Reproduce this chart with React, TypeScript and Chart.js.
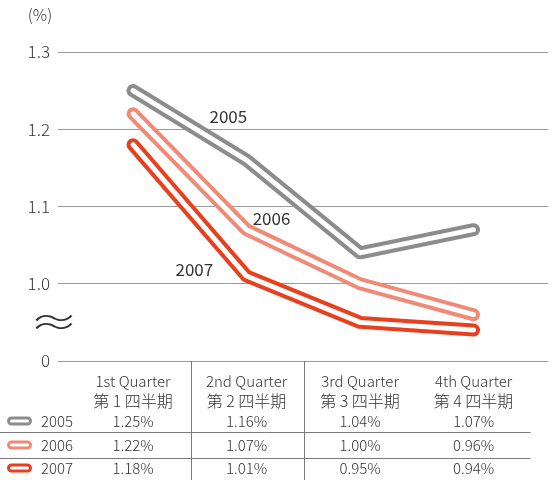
import React, { useEffect, useRef } from "react";
import { Chart, registerables } from "chart.js";
Chart.register(...registerables);

const quarters = ["1st Quarter", "2nd Quarter", "3rd Quarter", "4th Quarter"];
const quartersJa = ["第 1 四半期", "第 2 四半期", "第 3 四半期", "第 4 四半期"];
const years = ["2005", "2006", "2007"];
const values2005 = [1.25, 1.16, 1.04, 1.07];
const values2006 = [1.22, 1.07, 1.0, 0.96];
const values2007 = [1.18, 1.01, 0.95, 0.94];
const tableText2005 = ["1.25%", "1.16%", "1.04%", "1.07%"];
const tableText2006 = ["1.22%", "1.07%", "1.00%", "0.96%"];
const tableText2007 = ["1.18%", "1.01%", "0.95%", "0.94%"];
const yTicks = [0.9, 1.0, 1.1, 1.2, 1.3];
const yTickLabels = ["0", "1.0", "1.1", "1.2", "1.3"];
const unitLabel = "(%)";
const breakSymbol = "≈";

const colors = ["#8c8c8c", "#f08a76", "#e8401e"];
const seriesValues = [values2005, values2006, values2007];
const tableTexts = [tableText2005, tableText2006, tableText2007];
// label anchors in data space (x index, y value)
const labelAnchors = [
  { x: 0.84, y: 1.216 },
  { x: 1.22, y: 1.085 },
  { x: 0.54, y: 1.018 },
];

const FONT = '"Noto Sans CJK JP", "Noto Sans", sans-serif';
const TEXT = "#333333";

const overlayPlugin = {
  id: "overlay",
  afterDraw(chart: any) {
    const ctx = chart.ctx as CanvasRenderingContext2D;
    const xs = chart.scales.x;
    const ys = chart.scales.y;
    const area = chart.chartArea;
    ctx.save();
    ctx.fillStyle = TEXT;
    ctx.textBaseline = "middle";

    ctx.font = `300 16px ${FONT}`;
    ctx.textAlign = "center";
    ctx.fillText(unitLabel, 40, 15);

    ctx.save();
    ctx.translate(54, ys.getPixelForValue(0.95));
    ctx.scale(1.45, 1);
    ctx.font = `300 34px ${FONT}`;
    ctx.textAlign = "center";
    ctx.fillText(breakSymbol, 0, 0);
    ctx.restore();

    ctx.font = `400 17px ${FONT}`;
    ctx.textAlign = "center";
    years.forEach((yr, i) => {
      const a = labelAnchors[i];
      ctx.fillText(yr, xs.getPixelForValue(a.x), ys.getPixelForValue(a.y));
    });

    const top = area.bottom;
    const rowY = [421, 445, 468];
    const sep = [432, 458];
    ctx.strokeStyle = "#7a7a7a";
    ctx.lineWidth = 1;
    for (let i = 0; i < 2; i++) {
      const xm = Math.round((xs.getPixelForValue(i) + xs.getPixelForValue(i + 1)) / 2) + 1.5;
      ctx.beginPath();
      ctx.moveTo(xm, top);
      ctx.lineTo(xm, 480);
      ctx.stroke();
    }
    const tableRight = xs.getPixelForValue(3) + 57;
    sep.forEach((y) => {
      ctx.beginPath();
      ctx.moveTo(0, y + 0.5);
      ctx.lineTo(tableRight, y + 0.5);
      ctx.stroke();
    });

    ctx.fillStyle = TEXT;
    ctx.textAlign = "center";
    quarters.forEach((q, i) => {
      const x = xs.getPixelForValue(i);
      ctx.font = `300 15px ${FONT}`;
      ctx.fillText(q, x, 381);
      ctx.font = `300 16px ${FONT}`;
      ctx.fillText(quartersJa[i], x, 401);
    });

    ctx.font = `300 15px ${FONT}`;
    years.forEach((yr, r) => {
      const y = rowY[r];
      ctx.save();
      ctx.strokeStyle = colors[r];
      ctx.fillStyle = "#ffffff";
      ctx.lineWidth = 3;
      ctx.beginPath();
      (ctx as any).roundRect(8.5, y - 3, 22, 6, 3);
      ctx.fill();
      ctx.stroke();
      ctx.restore();
      ctx.fillStyle = TEXT;
      ctx.textAlign = "left";
      ctx.fillText(yr, 41, y);
      ctx.textAlign = "center";
      tableTexts[r].forEach((t, i) => {
        ctx.fillText(t, xs.getPixelForValue(i), y);
      });
    });
    ctx.restore();
  },
};

export default function App() {
  const ref = useRef<HTMLCanvasElement>(null);
  useEffect(() => {
    document.body.style.margin = "0";
    const datasets: any[] = [];
    seriesValues.forEach((vals, s) => {
      const pts = vals.map((v, i) => ({ x: i, y: v }));
      datasets.push({
        label: years[s] + " outer",
        data: pts,
        borderColor: colors[s],
        borderWidth: 13,
        borderCapStyle: "round",
        borderJoinStyle: "round",
        pointRadius: 0,
        fill: false,
        tension: 0,
        order: 6 - s * 2,
      });
      datasets.push({
        label: years[s] + " inner",
        data: pts,
        borderColor: "#ffffff",
        borderWidth: 5,
        borderCapStyle: "round",
        borderJoinStyle: "round",
        pointRadius: 0,
        fill: false,
        tension: 0,
        order: 5 - s * 2,
      });
    });
    const chart = new Chart(ref.current as HTMLCanvasElement, {
      type: "line",
      data: { datasets },
      options: {
        animation: false,
        responsive: false,
        layout: { padding: { top: 52, bottom: 119, right: 8, left: 0 } },
        plugins: { legend: { display: false }, tooltip: { enabled: false } },
        scales: {
          x: {
            type: "linear",
            display: false,
            min: -0.661,
            max: 3.656,
          },
          y: {
            type: "linear",
            min: 0.9,
            max: 1.3,
            afterFit: (s: any) => {
              s.width = 58;
            },
            afterBuildTicks: (s: any) => {
              s.ticks = yTicks.map((v) => ({ value: v }));
            },
            border: { display: false },
            grid: { color: "#9a9a9a", lineWidth: 1, drawTicks: false },
            ticks: {
              padding: 8,
              color: TEXT,
              font: { family: FONT, size: 17, weight: "300" },
              callback: (v: any) => {
                const idx = yTicks.findIndex((t) => Math.abs(t - v) < 1e-6);
                return idx >= 0 ? yTickLabels[idx] : "";
              },
            },
          },
        },
      } as any,
      plugins: [overlayPlugin],
    });
    return () => chart.destroy();
  }, []);
  return <canvas ref={ref} width={556} height={480} style={{ display: "block" }} />;
}
